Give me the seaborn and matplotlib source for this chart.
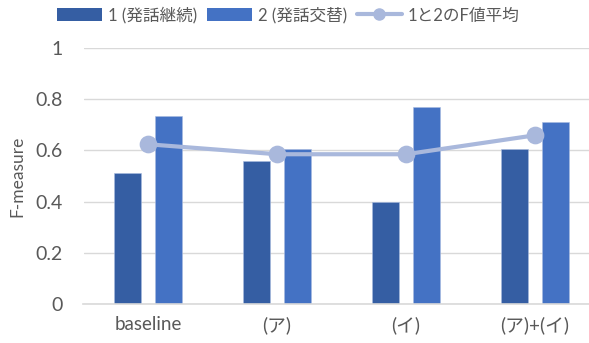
import matplotlib
matplotlib.use("Agg")
import matplotlib.pyplot as plt
import seaborn as sns
import pandas as pd
from matplotlib.patches import Patch
from matplotlib.lines import Line2D

categories = ["baseline", "(ア)", "(イ)", "(ア)+(イ)"]
series1_name = "1 (発話継続)"
series2_name = "2 (発話交替)"
line_name = "1と2のF値平均"
series1 = [0.51, 0.56, 0.40, 0.605]
series2 = [0.735, 0.607, 0.768, 0.712]
average = [0.624, 0.585, 0.585, 0.659]
yticks = [0, 0.2, 0.4, 0.6, 0.8, 1]
ytick_labels = ["0", "0.2", "0.4", "0.6", "0.8", "1"]

c1 = "#355EA3"
c2 = "#4472C4"
cl = "#A9B8DC"
txt = "#595959"
grid = "#D9D9D9"

sns.set_theme(style="white")
plt.rcParams["font.family"] = ["Lato", "Noto Sans CJK JP", "DejaVu Sans"]

df = pd.DataFrame({
    "cond": categories * 2,
    "F": series1 + series2,
    "series": [series1_name] * 4 + [series2_name] * 4,
})

fig = plt.figure(figsize=(5.89, 3.43), dpi=100)
W, H = 589, 343
left, right = 83.5, 599.5
y0, y1 = 304, 48
ax = fig.add_axes([left / W, (H - y0) / H, (right - left) / W, (y0 - y1) / H])

sns.barplot(data=df, x="cond", y="F", hue="series", order=categories,
            hue_order=[series1_name, series2_name], palette=[c1, c2],
            saturation=1, width=0.64, gap=0.34, ax=ax, legend=False,
            edgecolor="#A8BBE0", linewidth=0.4, errorbar=None)
sns.pointplot(x=categories, y=average, color=cl, markers="o", linestyles="-",
              markersize=10.5, linewidth=3, ax=ax, errorbar=None)

ax.set_xlim(-0.5, 3.5)
ax.set_ylim(0, 1)
ax.set_yticks(yticks)
ax.set_yticklabels(ytick_labels)
ax.yaxis.grid(True, color=grid, linewidth=1)
ax.set_axisbelow(True)
for s in ["top", "right", "left"]:
    ax.spines[s].set_visible(False)
ax.spines["bottom"].set_color(grid)
ax.spines["bottom"].set_linewidth(1.2)
ax.tick_params(axis="y", length=0, pad=15, labelsize=14, labelcolor=txt)
ax.tick_params(axis="x", length=0, pad=9, labelsize=13.5, labelcolor=txt)
ax.set_xlabel("")
ax.set_ylabel("F-measure", fontsize=12.5, color=txt)
ax.yaxis.set_label_coords(-0.113, 0.5)

handles = [Patch(facecolor=c1, edgecolor="none"),
           Patch(facecolor=c2, edgecolor="none"),
           Line2D([], [], color=cl, lw=3, marker="o", markersize=8)]
fig.legend(handles, [series1_name, series2_name, line_name], loc="center",
           bbox_to_anchor=(0.489, 0.956), ncol=3, frameon=False,
           fontsize=12, labelcolor=txt, handlelength=2.7, handleheight=0.8,
           handletextpad=0.35, columnspacing=0.6)

fig.savefig("out.png", dpi=100)
